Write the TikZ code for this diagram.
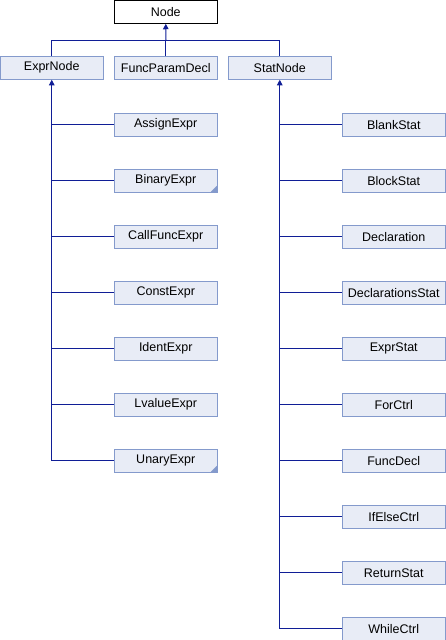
\documentclass[tikz,border=0pt]{standalone}
\usepackage{fontspec}
\setmainfont{Liberation Sans}
\usetikzlibrary{arrows.meta}
\definecolor{boxfill}{RGB}{232,236,246}
\definecolor{boxdraw}{RGB}{132,154,204}
\definecolor{linec}{RGB}{16,30,150}
\definecolor{markc}{RGB}{132,154,204}
\begin{document}
\begin{tikzpicture}[x=1pt,y=-1pt,
  cls/.style={draw=boxdraw,fill=boxfill,line width=1pt,minimum width=103pt,minimum height=23pt,inner sep=0pt,font=\fontsize{12.5}{14}\selectfont},
  cur/.style={cls,draw=black,fill=white},
  conn/.style={draw=linec,line width=1pt},
  inh/.style={conn,{Triangle[length=5.5pt,width=5.5pt]}-},
  mk/.style={fill=markc}]
\useasboundingbox (0,0) rectangle (446,640);
\node[cur] (Node) at (165.75,11.75) {Node};
\node[cls] (ExprNode) at (51.75,67.75) {ExprNode};
\node[cls] (FuncParamDecl) at (165.75,67.75) {FuncParamDecl};
\node[cls] (StatNode) at (279.75,67.75) {StatNode};
% left children
\foreach \n [count=\i from 0] in {AssignExpr,BinaryExpr,CallFuncExpr,ConstExpr,IdentExpr,LvalueExpr,UnaryExpr}{
  \node[cls] (\n) at (165.75,124.75+56*\i) {\n};
}
% right children
\foreach \n [count=\i from 0] in {BlankStat,BlockStat,Declaration,DeclarationsStat,ExprStat,ForCtrl,FuncDecl,IfElseCtrl,ReturnStat,WhileCtrl}{
  \node[cls] (\n) at (393.75,124.75+56*\i) {\n};
}
% top level
\coordinate (bus) at (166,40);
\draw[inh] (Node.south) -- (bus);
\draw[conn] (ExprNode.north) -- (ExprNode.north |- bus) -- (StatNode.north |- bus) -- (StatNode.north);
\draw[conn] (FuncParamDecl.north) -- (FuncParamDecl.north |- bus);
% ExprNode subtree
\draw[inh] (ExprNode.south) -- (ExprNode.south |- UnaryExpr.west) -- (UnaryExpr.west);
\foreach \n in {AssignExpr,BinaryExpr,CallFuncExpr,ConstExpr,IdentExpr,LvalueExpr}{
  \draw[conn] (ExprNode.south |- \n.west) -- (\n.west);
}
% StatNode subtree
\draw[inh] (StatNode.south) -- (StatNode.south |- WhileCtrl.west) -- (WhileCtrl.west);
\foreach \n in {BlankStat,BlockStat,Declaration,DeclarationsStat,ExprStat,ForCtrl,FuncDecl,IfElseCtrl,ReturnStat}{
  \draw[conn] (StatNode.south |- \n.west) -- (\n.west);
}
% corner markers
\foreach \n in {BinaryExpr,UnaryExpr}{
  \fill[mk] ([xshift=-1pt,yshift=1pt]\n.south east) -- ++(0pt,6pt) -- ++(-6pt,-6pt) -- cycle;
}
\end{tikzpicture}
\end{document}
